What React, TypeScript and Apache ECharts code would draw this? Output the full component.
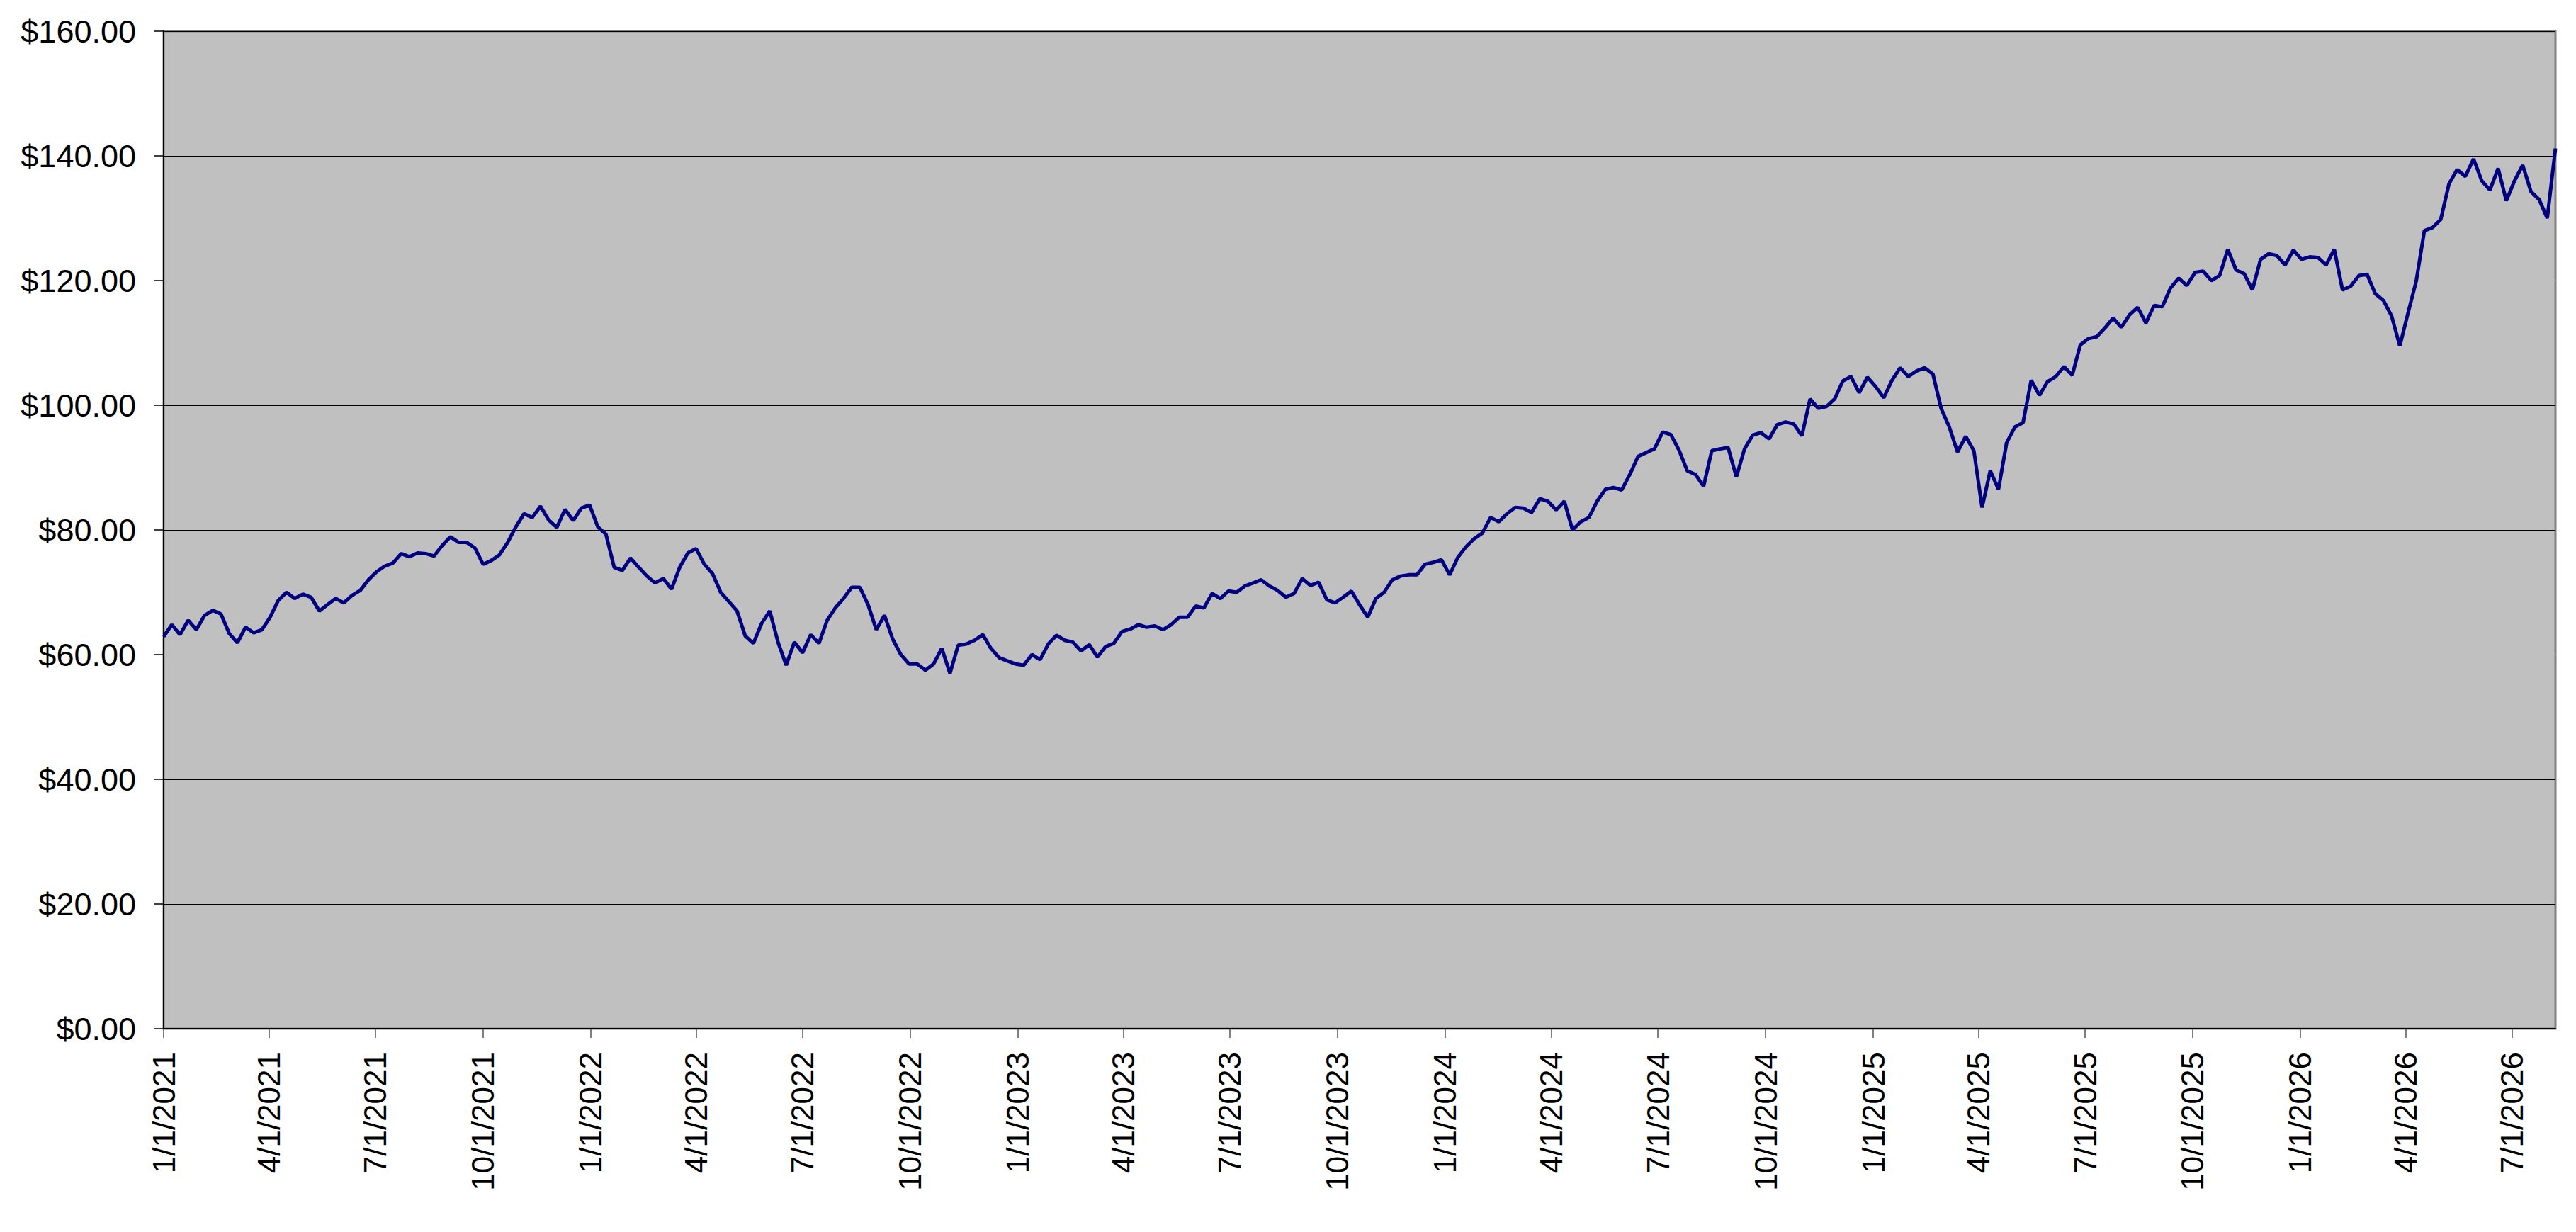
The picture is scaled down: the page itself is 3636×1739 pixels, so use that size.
import React, { useEffect, useRef } from "react";
import * as echarts from "echarts";

// Weekly closing values (first point 1/1/2021, one point every 7 days)
const prices2021 = [
  62.9, 64.8, 63.2, 65.5, 64.0, 66.3, 67.1, 66.5, 63.4, 61.9, 64.4, 63.5, 64.0, 66.0,
  68.7, 70.0, 69.0, 69.7, 69.2, 67.0, 68.0, 69.0, 68.3, 69.5, 70.3, 72.0, 73.3, 74.2,
  74.7, 76.2, 75.7, 76.3, 76.2, 75.8, 77.5, 78.9, 78.0, 78.0, 77.1, 74.5, 75.1, 76.0,
  78.0, 80.5, 82.6, 82.0, 83.8, 81.6, 80.4, 83.3, 81.5, 83.5, 84.0,
];
const prices2022 = [
  80.5, 79.3, 74.0, 73.5, 75.5, 74.0, 72.6, 71.5, 72.2, 70.5, 74.0, 76.3, 77.0, 74.5,
  73.0, 70.0, 68.5, 67.0, 63.0, 61.8, 65.0, 67.0, 62.0, 58.3, 62.0, 60.3, 63.2, 61.8,
  65.5, 67.5, 69.0, 70.8, 70.8, 68.0, 64.0, 66.3, 62.5, 60.0, 58.5, 58.5, 57.5, 58.5,
  61.0, 57.0, 61.5, 61.7, 62.3, 63.2, 61.0, 59.5, 59.0, 58.5,
];
const prices2023 = [
  58.3, 60.0, 59.2, 61.7, 63.1, 62.3, 62.0, 60.6, 61.6, 59.6, 61.3, 61.8, 63.7, 64.1,
  64.8, 64.4, 64.6, 64.0, 64.8, 66.0, 66.0, 67.8, 67.5, 69.8, 69.0, 70.2, 70.0, 71.0,
  71.5, 72.0, 71.0, 70.3, 69.2, 69.8, 72.2, 71.1, 71.6, 68.8, 68.3, 69.2, 70.2, 68.0,
  66.0, 69.0, 70.0, 72.0, 72.6, 72.8, 72.8, 74.5, 74.8, 75.2,
];
const prices2024 = [
  72.8, 75.6, 77.3, 78.6, 79.5, 82.0, 81.3, 82.6, 83.6, 83.5, 82.8, 85.0, 84.6, 83.2,
  84.6, 80.0, 81.3, 82.0, 84.6, 86.5, 86.8, 86.4, 88.9, 91.8, 92.4, 93.0, 95.7, 95.3,
  92.8, 89.5, 88.9, 87.0, 92.7, 93.0, 93.2, 88.5, 93.0, 95.2, 95.6, 94.6, 96.9, 97.3,
  97.0, 95.1, 101.0, 99.5, 99.8, 101.0, 103.9, 104.6, 102.0, 104.5,
];
const prices2025 = [
  103.0, 101.2, 104.0, 106.0, 104.6, 105.5, 106.0, 105.0, 99.5, 96.5, 92.5, 95.0, 92.7,
  83.6, 89.5, 86.5, 94.0, 96.5, 97.2, 104.0, 101.6, 103.8, 104.6, 106.2, 104.8, 109.7,
  110.7, 111.0, 112.4, 114.0, 112.5, 114.5, 115.7, 113.2, 116.0, 115.8, 118.8, 120.4,
  119.2, 121.3, 121.5, 120.0, 120.8, 125.0, 121.7, 121.1, 118.5, 123.4, 124.3, 124.0,
  122.5, 124.9,
];
const prices2026 = [
  123.4, 123.8, 123.7, 122.5, 125.0, 118.5, 119.1, 120.8, 121.0, 117.9, 116.8, 114.3,
  109.5, 114.8, 119.9, 128.0, 128.5, 129.8, 135.5, 137.8, 136.7, 139.5, 136.0, 134.5,
  138.0, 132.8, 136.0, 138.5, 134.3, 133.0, 130.0, 141.2,
];

const firstDate = "2021-01-01";
const stepDays = 7;

const quarterTicks = [
  "2021-01-01", "2021-04-01", "2021-07-01", "2021-10-01",
  "2022-01-01", "2022-04-01", "2022-07-01", "2022-10-01",
  "2023-01-01", "2023-04-01", "2023-07-01", "2023-10-01",
  "2024-01-01", "2024-04-01", "2024-07-01", "2024-10-01",
  "2025-01-01", "2025-04-01", "2025-07-01", "2025-10-01",
  "2026-01-01", "2026-04-01", "2026-07-01",
];

const yMin = 0;
const yMax = 160;
const yStep = 20;

const toTs = (s: string) => {
  const [y, m, d] = s.split("-").map(Number);
  return Date.UTC(y, m - 1, d);
};

export default function App() {
  const ref = useRef<HTMLDivElement>(null);

  useEffect(() => {
    if (!ref.current) return;
    const chart = echarts.init(ref.current, undefined, { renderer: "svg" });
    const all = [
      ...prices2021,
      ...prices2022,
      ...prices2023,
      ...prices2024,
      ...prices2025,
      ...prices2026,
    ];
    const t0 = toTs(firstDate);
    const DAY = 86400000;
    const data = all.map((v, i) => [t0 + i * stepDays * DAY, v]);
    const tMax = t0 + (all.length - 1) * stepDays * DAY;
    const ticks = quarterTicks.map(toTs);
    const fmt = (v: number) => {
      const d = new Date(v);
      return `${d.getUTCMonth() + 1}/${d.getUTCDate()}/${d.getUTCFullYear()}`;
    };

    chart.setOption({
      animation: false,
      backgroundColor: "#ffffff",
      grid: {
        left: 231,
        top: 44,
        right: 29,
        bottom: 287,
        show: true,
        backgroundColor: "#C0C0C0",
        borderColor: "#808080",
        borderWidth: 3,
      },
      xAxis: {
        type: "value",
        min: t0,
        max: tMax,
        splitLine: { show: false },
        axisLine: { show: true, onZero: false, lineStyle: { color: "#000000", width: 2 } },
        axisTick: {
          show: true,
          customValues: ticks,
          length: 13,
          lineStyle: { color: "#555555", width: 1.5 },
        },
        axisLabel: {
          customValues: ticks,
          rotate: 90,
          margin: 33,
          formatter: (v: number) => fmt(v),
          color: "#000000",
          fontFamily: "Liberation Sans, Arial, sans-serif",
          fontSize: 44,
        },
      },
      yAxis: {
        type: "value",
        min: yMin,
        max: yMax,
        interval: yStep,
        axisLine: { show: true, lineStyle: { color: "#000000", width: 2 } },
        axisTick: { show: true, length: 13, lineStyle: { color: "#000000", width: 1.5 } },
        splitLine: { show: true, lineStyle: { color: "#000000", width: 1.2 } },
        axisLabel: {
          margin: 39,
          formatter: (v: number) => "$" + v.toFixed(2),
          color: "#000000",
          fontFamily: "Liberation Sans, Arial, sans-serif",
          fontSize: 45,
        },
      },
      series: [
        {
          type: "line",
          data,
          showSymbol: false,
          symbol: "none",
          lineStyle: { color: "#000080", width: 5 },
          itemStyle: { color: "#000080" },
        },
      ],
    });
    return () => chart.dispose();
  }, []);

  return (
    <div
      ref={ref}
      style={{ position: "absolute", left: 0, top: 0, width: 3636, height: 1739, background: "#fff" }}
    />
  );
}
